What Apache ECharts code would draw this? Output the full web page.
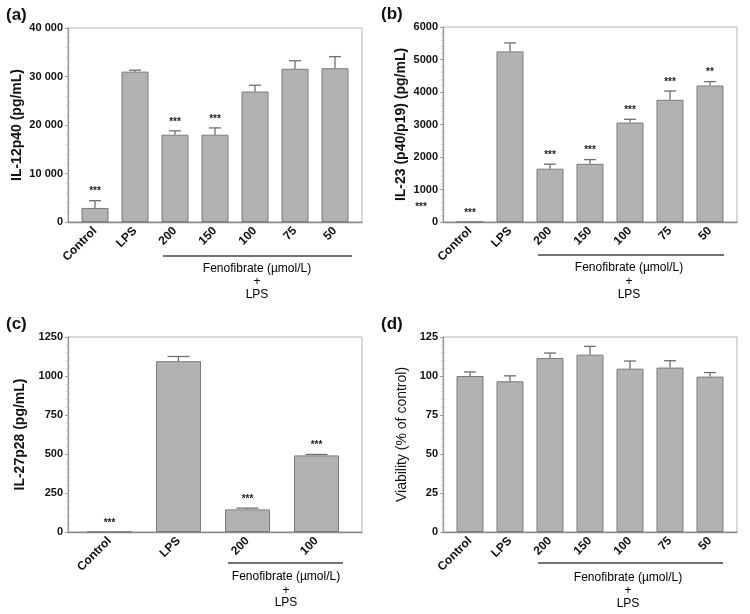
<!DOCTYPE html>
<html>
<head>
<meta charset="utf-8">
<script src="https://cdn.jsdelivr.net/npm/echarts@6/dist/echarts.min.js"></script>
<style>
  html, body { margin: 0; padding: 0; background: #fff; }
  #chart { width: 750px; height: 614px; }
</style>
</head>
<body>
<div id="chart"></div>
<script>
// categories
const groups7 = ['Control', 'LPS', '200', '150', '100', '75', '50'];
const groups4 = ['Control', 'LPS', '200', '100'];

// (a) IL-12p40
const il12Mean = [2900, 31000, 18000, 18000, 26900, 31600, 31700];
const il12Err = [1500, 300, 800, 1400, 1300, 1650, 2400];
const il12Sig = ['***', '', '***', '***', '', '', ''];

// (b) IL-23
const il23Mean = [0, 5250, 1640, 1790, 3060, 3760, 4200];
const il23Err = [0, 260, 140, 130, 100, 270, 120];
const il23Sig = ['***', '', '***', '***', '***', '***', '**'];

// (c) IL-27p28
const il27Mean = [0, 1095, 145, 491];
const il27Err = [0, 30, 8, 6];
const il27Sig = ['***', '', '***', '***'];

// (d) viability
const viabMean = [100, 96.6, 111.5, 113.7, 104.7, 105.4, 99.6];
const viabErr = [2.6, 3.5, 3.2, 5.3, 4.9, 4.4, 2.6];
const viabSig = ['', '', '', '', '', '', ''];

const FONT = '"Liberation Sans", Arial, sans-serif';

const panels = [
  { tag: '(a)', cats: groups7, mean: il12Mean, err: il12Err, sig: il12Sig,
    max: 40000, step: 10000, name: 'IL-12p40 (pg/mL)', bold: true, gap: 44,
    frame: { left: 68, top: 28, width: 294, height: 194 }, inset: [7, 7], barW: 27, capW: 12 },
  { tag: '(b)', cats: groups7, mean: il23Mean, err: il23Err, sig: il23Sig,
    max: 6000, step: 1000, name: 'IL-23 (p40/p19) (pg/mL)', bold: true, gap: 35,
    frame: { left: 443, top: 27, width: 294, height: 195 }, inset: [7, 7], barW: 27, capW: 12 },
  { tag: '(c)', cats: groups4, mean: il27Mean, err: il27Err, sig: il27Sig,
    max: 1250, step: 250, name: 'IL-27p28 (pg/mL)', bold: true, gap: 41,
    frame: { left: 68, top: 337, width: 294, height: 195 }, inset: [7, 11], barW: 45, capW: 22 },
  { tag: '(d)', cats: groups7, mean: viabMean, err: viabErr, sig: viabSig,
    max: 125, step: 25, name: 'Viability (% of control)', bold: false, gap: 34,
    frame: { left: 443, top: 337, width: 294, height: 195 }, inset: [7, 7], barW: 27, capW: 12 }
];

// "40 000" style grouping for the big numbers
function tickText(v) {
  return v >= 10000 ? String(v).replace(/\B(?=(\d{3})+(?!\d))/g, ' ') : String(v);
}

// error bar + significance stars
function errRender(errs, sigs, capW) {
  return function (params, api) {
    const i = params.dataIndex;
    const v = api.value(1);
    const e = errs[i];
    const base = api.coord([i, v]);
    const top = api.coord([i, v + e]);
    const kids = [];
    const ls = { stroke: '#6e6e6e', lineWidth: 1.3 };
    if (e > 0) {
      kids.push({ type: 'line', shape: { x1: base[0], y1: base[1], x2: top[0], y2: top[1] }, style: ls });
      kids.push({ type: 'line', shape: { x1: top[0] - capW / 2, y1: top[1], x2: top[0] + capW / 2, y2: top[1] }, style: ls });
    }
    if (sigs[i]) {
      kids.push({ type: 'text', x: top[0], y: top[1] - 14,
        style: { text: sigs[i], textAlign: 'center', textVerticalAlign: 'top',
          font: 'bold 10px ' + FONT, fill: '#222' } });
    }
    return { type: 'group', children: kids };
  };
}

const grid = [], xAxis = [], yAxis = [], series = [], graphic = [];

panels.forEach(function (p, k) {
  const f = p.frame;
  const fi = 2 * k, di = 2 * k + 1;
  // frame grid: box + y axis
  grid.push({ left: f.left, top: f.top, width: f.width, height: f.height,
    show: true, borderColor: '#b4b4b4', borderWidth: 1, outerBoundsMode: 'none' });
  // data grid: slightly inset so bars sit off the box edges
  grid.push({ left: f.left + p.inset[0], top: f.top, width: f.width - p.inset[0] - p.inset[1], height: f.height,
    outerBoundsMode: 'none' });

  xAxis.push({ gridIndex: fi, type: 'value', min: 0, max: 1,
    axisLine: { show: true, lineStyle: { color: '#8a8a8a', width: 1.3 } },
    axisTick: { show: false }, axisLabel: { show: false }, splitLine: { show: false } });
  yAxis.push({ gridIndex: fi, type: 'value', min: 0, max: p.max, interval: p.step,
    name: p.name, nameLocation: 'middle', nameGap: p.gap, nameRotate: 90,
    nameTextStyle: { fontFamily: FONT, fontSize: 14, fontWeight: p.bold ? 'bold' : 'normal', color: '#111' },
    axisLine: { show: true, lineStyle: { color: '#9a9a9a', width: 1.3 } },
    axisTick: { show: true, length: 3, lineStyle: { color: '#9a9a9a' } },
    minorTick: { show: true, splitNumber: 5, length: 2, lineStyle: { color: '#c8c8c8' } },
    axisLabel: { fontFamily: FONT, fontSize: 11, fontWeight: 'bold', color: '#111', margin: 5,
      formatter: tickText },
    splitLine: { show: false } });

  xAxis.push({ gridIndex: di, type: 'category', data: p.cats,
    axisLine: { show: false }, axisTick: { show: false },
    axisLabel: { rotate: 45, interval: 0, margin: 7, fontFamily: FONT, fontSize: 12, fontWeight: 'bold', color: '#111' } });
  yAxis.push({ gridIndex: di, type: 'value', min: 0, max: p.max, show: false });

  series.push({ type: 'bar', xAxisIndex: di, yAxisIndex: di, data: p.mean, barWidth: p.barW,
    itemStyle: { color: '#b2b2b2', borderColor: '#7a7a7a', borderWidth: 1 }, silent: true });
  series.push({ type: 'custom', xAxisIndex: di, yAxisIndex: di, z: 5,
    data: p.mean.map(function (v, i) { return [i, v]; }),
    renderItem: errRender(p.err, p.sig, p.capW), silent: true });

  // panel letter
  graphic.push({ type: 'text', left: f.left - 62, top: f.top - 21,
    style: { text: p.tag, font: 'bold 17px ' + FONT, fill: '#111' } });
});

// "Fenofibrate + LPS" brackets under the treated groups
const brackets = [
  { x1: 163, x2: 352, y: 256, cx: 257, ty: [269, 282, 295] },
  { x1: 538, x2: 724, y: 255, cx: 629, ty: [268, 282, 295] },
  { x1: 228, x2: 343, y: 563, cx: 286, ty: [577, 591, 603] },
  { x1: 538, x2: 723, y: 563, cx: 628, ty: [578, 591, 604] }
];
brackets.forEach(function (b) {
  graphic.push({ type: 'line', shape: { x1: b.x1, y1: b.y, x2: b.x2, y2: b.y },
    style: { stroke: '#444', lineWidth: 1.3 } });
  ['Fenofibrate (\u00b5mol/L)', '+', 'LPS'].forEach(function (t, j) {
    graphic.push({ type: 'text', x: b.cx, y: b.ty[j],
      style: { text: t, textAlign: 'center', textVerticalAlign: 'middle', font: '12px ' + FONT, fill: '#000' } });
  });
});

// stray significance mark beside the IL-23 axis
graphic.push({ type: 'text', x: 421, y: 207,
  style: { text: '***', textAlign: 'center', textVerticalAlign: 'middle', font: 'bold 10px ' + FONT, fill: '#222' } });

const chart = echarts.init(document.getElementById('chart'));
chart.setOption({
  animation: false,
  backgroundColor: '#fff',
  grid: grid,
  xAxis: xAxis,
  yAxis: yAxis,
  series: series,
  graphic: graphic
});
</script>
</body>
</html>
